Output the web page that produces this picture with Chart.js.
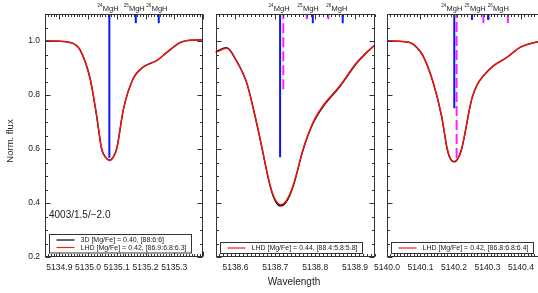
<!DOCTYPE html>
<html>
<head>
<meta charset="utf-8">
<script src="https://cdn.jsdelivr.net/npm/chart.js@4.4.1/dist/chart.umd.min.js"></script>
<style>
  html, body { margin:0; padding:0; background:#fff; }
  #wrap { position:relative; width:538px; height:293px; overflow:hidden; background:#fff; }
  canvas { position:absolute; left:0; top:0; }
</style>
</head>
<body>
<div id="wrap">
  <canvas id="c1" width="538" height="293"></canvas>
  <canvas id="c2" width="538" height="293"></canvas>
  <canvas id="c3" width="560" height="293"></canvas>
</div>
<script>
// ---------------- data ----------------
const yTicks = [0.2, 0.4, 0.6, 0.8, 1.0];
const xTicks1 = [5134.9, 5135.0, 5135.1, 5135.2, 5135.3];
const xTicks2 = [5138.6, 5138.7, 5138.8, 5138.9];
const xTicks3 = [5140.0, 5140.1, 5140.2, 5140.3, 5140.4];
const isoNames = ['24', '25', '26'];

// Panel 1
const wave1 = [5134.85, 5134.90, 5134.926, 5134.95, 5134.972, 5135.007, 5135.030, 5135.047, 5135.062, 5135.074, 5135.088, 5135.100, 5135.123, 5135.157, 5135.192, 5135.239, 5135.274, 5135.320, 5135.36, 5135.40];
const lhd1  = [1.000, 0.999, 0.997, 0.990, 0.968, 0.862, 0.723, 0.602, 0.568, 0.557, 0.570, 0.602, 0.747, 0.860, 0.903, 0.927, 0.957, 0.994, 1.003, 1.004];
const d3d1  = [1.000, 0.999, 0.997, 0.990, 0.967, 0.860, 0.720, 0.600, 0.568, 0.559, 0.571, 0.603, 0.748, 0.861, 0.904, 0.928, 0.958, 0.994, 1.003, 1.004];
const blueWave1 = [5135.074, 5135.166, 5135.246];
const blueEnd1  = [0.567, 1.066, 1.066];
const labelWave1 = [5135.069, 5135.160, 5135.239];

// Panel 2
const wave2 = [5138.550, 5138.578, 5138.603, 5138.628, 5138.645, 5138.662, 5138.687, 5138.700, 5138.714, 5138.728, 5138.745, 5138.770, 5138.795, 5138.820, 5138.862, 5138.904, 5138.937, 5138.950];
const lhd2  = [0.957, 0.973, 0.925, 0.847, 0.750, 0.638, 0.466, 0.412, 0.394, 0.410, 0.466, 0.601, 0.700, 0.761, 0.834, 0.920, 0.969, 0.985];
const d3d2  = [0.960, 0.975, 0.926, 0.846, 0.748, 0.635, 0.462, 0.407, 0.389, 0.405, 0.462, 0.598, 0.696, 0.757, 0.831, 0.917, 0.968, 0.985];
const blueWave2 = [5138.712, 5138.794, 5138.869];
const blueEnd2  = [0.569, 1.066, 1.066];
const magWave2  = [5138.720, 5138.779, 5138.833];
const magEnd2   = [0.821, 1.081, 1.081];
const labelWave2 = [5138.709, 5138.782, 5138.854];

// Panel 3
const wave3 = [5140.000, 5140.030, 5140.069, 5140.090, 5140.108, 5140.138, 5140.163, 5140.180, 5140.190, 5140.201, 5140.212, 5140.223, 5140.253, 5140.270, 5140.288, 5140.318, 5140.358, 5140.397, 5140.447, 5140.475];
const lhd3  = [1.000, 0.999, 0.994, 0.975, 0.945, 0.847, 0.724, 0.601, 0.563, 0.554, 0.566, 0.601, 0.785, 0.840, 0.871, 0.908, 0.939, 0.976, 0.996, 1.000];
const d3d3  = [1.000, 0.999, 0.994, 0.975, 0.944, 0.845, 0.721, 0.598, 0.561, 0.552, 0.564, 0.599, 0.784, 0.839, 0.871, 0.908, 0.939, 0.976, 0.996, 1.000];
const blueWave3 = [5140.201, 5140.254, 5140.303];
const blueEnd3  = [0.751, 1.078, 1.078];
const magWave3  = [5140.208, 5140.288, 5140.361];
const magEnd3   = [0.567, 1.066, 1.066];
const labelWave3 = [5140.193, 5140.263, 5140.332];

const legend1 = [['3D [Mg/Fe] = 0.40, [88:6:6]', '#000'], ['LHD [Mg/Fe] = 0.42, [86.9:6.8:6.3]', 'rgb(240,30,30)']];
const legend2 = [['LHD [Mg/Fe] = 0.44, [88.4:5.8:5.8]', 'rgb(240,30,30)']];
const legend3 = [['LHD [Mg/Fe] = 0.42, [86.8:6.8:6.4]', 'rgb(240,30,30)']];
const starLabel = '4003/1.5/\u22122.0';

// ---------------- drawing ----------------
const FF = '"Liberation Sans", Arial, Helvetica, sans-serif';
const FRAME = '#333';
const TXT = '#222';
const RED = 'rgb(240,20,20)';
const BLUE = '#0a14ff';
const MAG = '#ff22ff';
const YMIN = 0.2, YMAX = 1.1;

function pts(xs, ys) { return xs.map((x, i) => ({x: x, y: ys[i]})); }

function isoDatasets(waves, ends, color, dashed) {
  return waves.map((w, i) => ({
    data: [{x: w, y: ends[i]}, {x: w, y: YMAX}],
    borderColor: color, borderWidth: 2, pointRadius: 0, showLine: true,
    borderDash: dashed ? [10, 4] : [], order: 0
  }));
}

const panelPlugin = {
  id: 'panelDecor',
  afterDraw(chart) {
    const cfg = chart.options.plugins.panelDecor;
    const ctx = chart.ctx;
    const xs = chart.scales.x, ys = chart.scales.y;
    const {left, right, top, bottom} = chart.chartArea;
    ctx.save();
    // frame
    ctx.strokeStyle = FRAME; ctx.lineWidth = 1;
    const L = Math.round(left) + 0.5, R = Math.round(right) - 0.5, T = Math.round(top) + 0.5, B = Math.round(bottom) - 0.5;
    ctx.strokeRect(L, T, R - L, B - T);
    // x ticks (minor every 0.01, major every 0.1)
    ctx.beginPath();
    const i0 = Math.ceil(xs.min * 100 - 1e-6), i1 = Math.floor(xs.max * 100 + 1e-6);
    for (let i = i0; i <= i1; i++) {
      const px = Math.round(xs.getPixelForValue(i / 100)) + 0.5;
      const len = (i % 10 === 0) ? 5 : 2.5;
      ctx.moveTo(px, B); ctx.lineTo(px, B - len);
      ctx.moveTo(px, T); ctx.lineTo(px, T + len);
    }
    // y ticks (minor every 0.05, major every 0.2)
    for (let j = 4; j <= 22; j++) {
      const v = j * 0.05;
      const py = Math.round(ys.getPixelForValue(v)) + 0.5;
      const len = (j % 4 === 0) ? 5 : 2.5;
      ctx.moveTo(L, py); ctx.lineTo(L + len, py);
      ctx.moveTo(R, py); ctx.lineTo(R - len, py);
    }
    ctx.stroke();
    // x tick labels
    ctx.fillStyle = TXT;
    ctx.font = '8.5px ' + FF;
    ctx.textAlign = 'center'; ctx.textBaseline = 'top';
    cfg.xTicks.forEach(v => ctx.fillText(v.toFixed(1), xs.getPixelForValue(v), bottom + 6));
    // y tick labels
    if (cfg.yLabels) {
      ctx.textAlign = 'right'; ctx.textBaseline = 'middle';
      yTicks.forEach(v => ctx.fillText(v.toFixed(1), left - 5, ys.getPixelForValue(v)));
    }
    // isotope labels
    cfg.labelWaves.forEach((w, i) => {
      const cx = xs.getPixelForValue(w);
      ctx.font = '4.5px ' + FF;
      const sw = ctx.measureText(isoNames[i]).width;
      ctx.font = '7.5px ' + FF;
      const mw = ctx.measureText('MgH').width;
      const x0 = cx - (sw + mw) / 2;
      ctx.textAlign = 'left'; ctx.textBaseline = 'alphabetic';
      ctx.font = '4.5px ' + FF;
      ctx.fillText(isoNames[i], x0, 7);
      ctx.font = '7.5px ' + FF;
      ctx.fillText('MgH', x0 + sw + 0.3, 10.5);
    });
    // legend
    const lg = cfg.legend;
    ctx.font = '7px ' + FF;
    let tw = 0;
    lg.forEach(r => { tw = Math.max(tw, ctx.measureText(r[0]).width); });
    const rowH = 7.5;
    const bx = Math.round(left + 4) + 0.5;
    const bh = lg.length === 1 ? 11 : 18.5;
    const by = Math.round(bottom - 4.5 - bh) + 0.5;
    const bw = Math.round(31 + tw + 5);
    ctx.fillStyle = '#fff';
    ctx.fillRect(bx, by, bw, bh);
    ctx.strokeStyle = FRAME; ctx.lineWidth = 1;
    ctx.strokeRect(bx, by, bw, bh);
    lg.forEach((r, k) => {
      const cy = by + bh / 2 + (k - (lg.length - 1) / 2) * rowH;
      ctx.strokeStyle = r[1]; ctx.lineWidth = 1.2;
      ctx.beginPath(); ctx.moveTo(bx + 7, cy); ctx.lineTo(bx + 25, cy); ctx.stroke();
      ctx.fillStyle = TXT; ctx.textAlign = 'left'; ctx.textBaseline = 'middle';
      ctx.fillText(r[0], bx + 31, cy + 0.5);
    });
    // extra texts
    if (cfg.star) {
      ctx.font = '10px ' + FF; ctx.fillStyle = TXT;
      ctx.textAlign = 'left'; ctx.textBaseline = 'middle';
      ctx.fillText(cfg.star, left + 4, 215);
    }
    if (cfg.axisTitles) {
      ctx.font = '10px ' + FF; ctx.fillStyle = TXT;
      ctx.textAlign = 'center'; ctx.textBaseline = 'middle';
      ctx.fillText('Wavelength', 294, 282);
      ctx.save();
      ctx.translate(10, 141); ctx.rotate(-Math.PI / 2);
      ctx.font = '9.5px ' + FF;
      ctx.fillText('Norm. flux', 0, 0);
      ctx.restore();
    }
    ctx.restore();
  }
};

function makePanel(id, pad, xmin, xmax, wave, lhd, d3d, isoSets, decor) {
  const datasets = [
    ...isoSets,
    {data: pts(wave, lhd), borderColor: RED, borderWidth: 1.5, pointRadius: 0, showLine: true, cubicInterpolationMode: 'monotone', order: 1},
    {data: pts(wave, d3d), borderColor: '#000', borderWidth: 1.3, pointRadius: 0, showLine: true, cubicInterpolationMode: 'monotone', order: 2}
  ];
  return new Chart(document.getElementById(id), {
    type: 'scatter',
    data: {datasets},
    options: {
      responsive: false, animation: false, devicePixelRatio: 1,
      layout: {padding: pad},
      scales: {
        x: {type: 'linear', min: xmin, max: xmax, display: false},
        y: {type: 'linear', min: YMIN, max: YMAX, display: false}
      },
      plugins: {legend: {display: false}, tooltip: {enabled: false}, panelDecor: decor}
    },
    plugins: [panelPlugin]
  });
}

makePanel('c1', {left: 45, right: 335, top: 14, bottom: 36}, 5134.85, 5135.40, wave1, lhd1, d3d1,
  isoDatasets(blueWave1, blueEnd1, BLUE, false),
  {xTicks: xTicks1, yLabels: true, labelWaves: labelWave1, legend: legend1, star: starLabel, axisTitles: true});

makePanel('c2', {left: 215.5, right: 163, top: 14, bottom: 36}, 5138.55, 5138.95, wave2, lhd2, d3d2,
  [...isoDatasets(blueWave2, blueEnd2, BLUE, false), ...isoDatasets(magWave2, magEnd2, MAG, true)],
  {xTicks: xTicks2, yLabels: false, labelWaves: labelWave2, legend: legend2});

makePanel('c3', {left: 387, right: 14, top: 14, bottom: 36}, 5140.0, 5140.475, wave3, lhd3, d3d3,
  [...isoDatasets(blueWave3, blueEnd3, BLUE, false), ...isoDatasets(magWave3, magEnd3, MAG, true)],
  {xTicks: xTicks3, yLabels: false, labelWaves: labelWave3, legend: legend3});
</script>
</body>
</html>
